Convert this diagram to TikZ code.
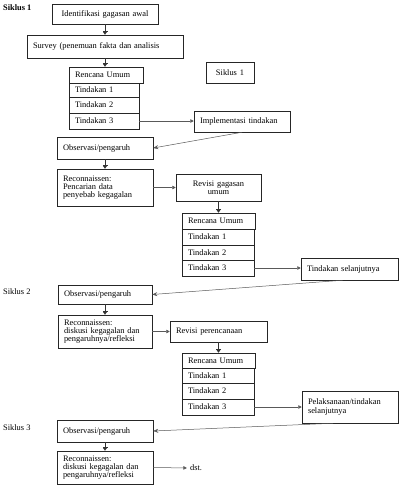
\documentclass[tikz,border=0pt]{standalone}
\usepackage{fontspec}
\setmainfont{Liberation Serif}
\usetikzlibrary{arrows.meta,calc}
\newcommand{\fs}{\fontsize{8.4}{8.2}\selectfont}
\tikzset{
  bx/.style={draw=black!85, line width=0.5pt, inner xsep=6pt, inner ysep=0pt, font=\fs, align=left},
  lab/.style={inner sep=0pt, font=\fs, anchor=west},
  down/.style={draw=black!80, line width=0.5pt, -{Bar[width=5pt,line width=0.6pt]Triangle[length=3pt,width=4pt]}},
  rgt/.style={draw=black!65, line width=0.5pt, -{Triangle[length=3.5pt,width=3.5pt]}},
  back/.style={draw=black!65, line width=0.5pt, -{Stealth[length=5pt,width=4pt]}},
}
\begin{document}
\begin{tikzpicture}[x=1pt,y=-1pt]
\useasboundingbox (0,0) rectangle (409,493);
% labels
\node[lab, font=\fs\bfseries] (s1) at (3,8) {Siklus 1};
\node[lab] (s2) at (3,292) {Siklus 2};
\node[lab] (s3) at (3,428) {Siklus 3};
% cycle 1
\node[bx, text width=94pt, minimum height=20pt, align=center] (id1) at (105,14) {Identifikasi gagasan awal};
\node[bx, text width=144pt, minimum height=23pt] (sur) at (105,46.5) {Survey (penemuan fakta dan analisis};
\node[bx, text width=62pt, minimum height=16pt] (a0) at (106,75) {Rencana Umum};
\node[bx, text width=58pt, minimum height=14pt] (a1) at (104,90) {Tindakan 1};
\node[bx, text width=58pt, minimum height=16pt] (a2) at (104,105) {Tindakan 2};
\node[bx, text width=58pt, minimum height=16pt] (a3) at (104,121) {Tindakan 3};
\node[bx, text width=36pt, minimum height=21pt, align=center] (sb) at (230,72.5) {Siklus 1};
\node[bx, text width=84pt, minimum height=21pt] (imp) at (242,121.5) {Implementasi tindakan};
\node[bx, text width=84pt, minimum height=22pt] (o1) at (105,148) {Observasi/pengaruh};
\node[bx, text width=84pt, minimum height=37pt] (r1) at (105,187.5) {Reconnaissen:\\Pencarian data\\penyebab kegagalan};
\node[bx, text width=73pt, minimum height=27pt, align=center] (v1) at (218.5,187.5) {Revisi gagasan\\umum};
\node[bx, text width=61pt, minimum height=16pt] (b0) at (218.5,221) {Rencana Umum};
\node[bx, text width=60pt, minimum height=16pt] (b1) at (218,237) {Tindakan 1};
\node[bx, text width=60pt, minimum height=15pt] (b2) at (218,252.5) {Tindakan 2};
\node[bx, text width=60pt, minimum height=16pt] (b3) at (218,268) {Tindakan 3};
\node[bx, text width=85pt, minimum height=22pt] (ts) at (349.5,269) {Tindakan selanjutnya};
% cycle 2
\node[bx, text width=82pt, minimum height=19pt] (o2) at (105,294.5) {Observasi/pengaruh};
\node[bx, text width=82pt, minimum height=33pt] (r2) at (105,331.5) {Reconnaissen:\\diskusi kegagalan dan\\pengaruhnya/refleksi};
\node[bx, text width=85pt, minimum height=21pt] (v2) at (218.5,331.5) {Revisi perencanaan};
\node[bx, text width=61pt, minimum height=15pt] (c0) at (218.5,360.5) {Rencana Umum};
\node[bx, text width=60pt, minimum height=15pt] (c1) at (218,375.5) {Tindakan 1};
\node[bx, text width=60pt, minimum height=16pt] (c2) at (218,391) {Tindakan 2};
\node[bx, text width=60pt, minimum height=16pt] (c3) at (218,407) {Tindakan 3};
\node[bx, text width=84pt, minimum height=32pt] (pl) at (350,407) {Pelaksanaan/tindakan\\selanjutnya};
% cycle 3
\node[bx, text width=84pt, minimum height=22pt] (o3) at (105,431) {Observasi/pengaruh};
\node[bx, text width=84pt, minimum height=33pt] (r3) at (105,467.5) {Reconnaissen:\\diskusi kegagalan dan\\pengaruhnya/refleksi};
\node[inner sep=0pt, font=\fs] (dst) at (196,468) {dst.};
% connectors
\draw[down] (id1.south) -- (sur.north);
\draw[down] (sur.south) -- (sur.south |- a0.north);
\draw[rgt] (a3.east) -- (a3.east -| imp.west);
\draw[back] (imp.south) -- (o1.east);
\draw[down] (o1.south) -- (r1.north);
\draw[rgt] (r1.east) -- (r1.east -| v1.west);
\draw[down] (v1.south) -- (v1.south |- b0.north);
\draw[rgt] (b3.east) -- (b3.east -| ts.west);
\draw[back] ([xshift=-7pt]ts.south) -- (o2.east);
\draw[down] (o2.south) -- (r2.north);
\draw[rgt] (r2.east) -- (r2.east -| v2.west);
\draw[down] (v2.south) -- (v2.south |- c0.north);
\draw[rgt] (c3.east) -- (c3.east -| pl.west);
\draw[back] ([xshift=-17pt]pl.south) -- (o3.east);
\draw[down] (o3.south) -- (r3.north);
\draw[rgt, shorten >=3pt] (r3.east) -- (dst.west);
\end{tikzpicture}
\end{document}
